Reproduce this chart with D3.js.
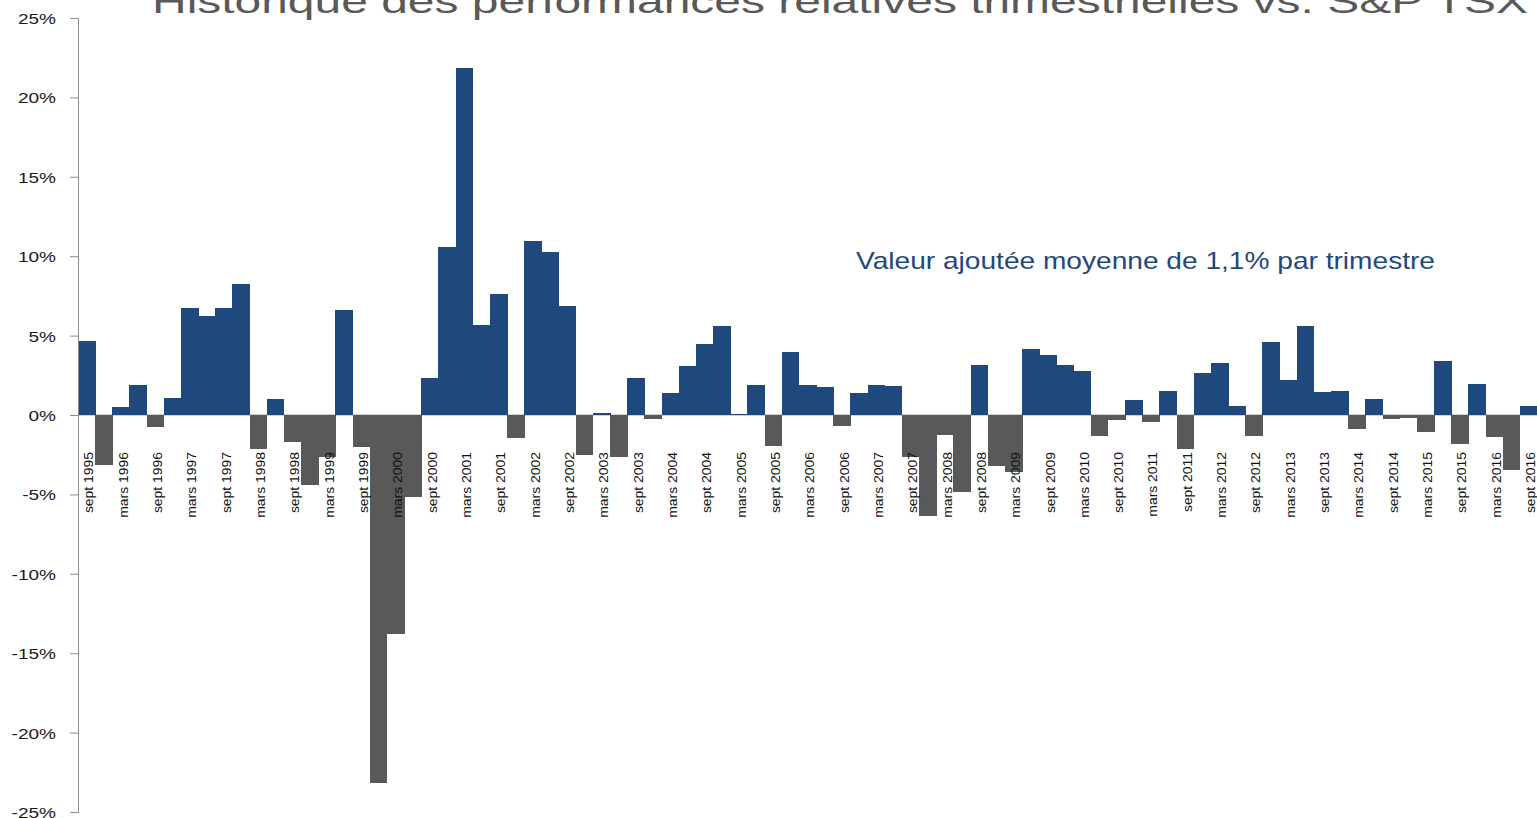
<!DOCTYPE html>
<html>
<head>
<meta charset="utf-8">
<script src="https://cdn.jsdelivr.net/npm/d3@7"></script>
<style>
  html, body { margin: 0; padding: 0; background: #ffffff; overflow: hidden; }
  svg { display: block; }
</style>
</head>
<body>
<svg id="chart" width="1537" height="818"></svg>
<script>
// ---- DATA ----
const categories = [
  "sept 1995","déc 1995","mars 1996","juin 1996","sept 1996","déc 1996",
  "mars 1997","juin 1997","sept 1997","déc 1997","mars 1998","juin 1998",
  "sept 1998","déc 1998","mars 1999","juin 1999","sept 1999","déc 1999",
  "mars 2000","juin 2000","sept 2000","déc 2000","mars 2001","juin 2001",
  "sept 2001","déc 2001","mars 2002","juin 2002","sept 2002","déc 2002",
  "mars 2003","juin 2003","sept 2003","déc 2003","mars 2004","juin 2004",
  "sept 2004","déc 2004","mars 2005","juin 2005","sept 2005","déc 2005",
  "mars 2006","juin 2006","sept 2006","déc 2006","mars 2007","juin 2007",
  "sept 2007","déc 2007","mars 2008","juin 2008","sept 2008","déc 2008",
  "mars 2009","juin 2009","sept 2009","déc 2009","mars 2010","juin 2010",
  "sept 2010","déc 2010","mars 2011","juin 2011","sept 2011","déc 2011",
  "mars 2012","juin 2012","sept 2012","déc 2012","mars 2013","juin 2013",
  "sept 2013","déc 2013","mars 2014","juin 2014","sept 2014","déc 2014",
  "mars 2015","juin 2015","sept 2015","déc 2015","mars 2016","juin 2016",
  "sept 2016"
];
// relative quarterly performance (%)
const values = [
   4.65, -3.15,  0.52,  1.88, -0.77,  1.08,
   6.75,  6.22,  6.75,  8.28, -2.13,  1.00,
  -1.69, -4.40, -2.66,  6.60, -2.00,-23.20,
 -13.78, -5.15,  2.36, 10.57, 21.86,  5.66,
   7.63, -1.42, 10.95, 10.25,  6.85, -2.55,
   0.14, -2.66,  2.36, -0.26,  1.40,  3.07,
   4.48,  5.62,  0.05,  1.92, -1.96,  3.98,
   1.92,  1.78, -0.70,  1.40,  1.92,  1.84,
  -2.64, -6.37, -1.25, -4.87,  3.12, -3.23,
  -3.62,  4.17,  3.77,  3.12,  2.80, -1.31,
  -0.33,  0.96, -0.43,  1.54, -2.13,  2.66,
   3.29,  0.54, -1.35,  4.58,  2.19,  5.62,
   1.46,  1.54, -0.87,  1.00, -0.26, -0.22,
  -1.04,  3.39, -1.84,  1.98, -1.40, -3.49,
   0.54
];
// only every other quarter is labelled
const xTickLabels = categories.filter((d, i) => i % 2 === 0);
const yTickValues = [-25, -20, -15, -10, -5, 0, 5, 10, 15, 20, 25];
const titleText = "Historique des performances relatives trimestrielles vs. S&P TSX";
const noteText = "Valeur ajoutée moyenne de 1,1% par trimestre";

// ---- CHART ----
const svg = d3.select("#chart");
const mLeft = 78, mRight = 1537, mTop = 18, mBottom = 812;

const x = d3.scaleBand().domain(categories).range([mLeft, mRight]).padding(0);
const y = d3.scaleLinear().domain([-25, 25]).range([mBottom, mTop]);

const data = categories.map((c, i) => ({ c, v: values[i] }));

// zero line
svg.append("line")
  .attr("x1", mLeft).attr("x2", mRight)
  .attr("y1", y(0)).attr("y2", y(0))
  .attr("stroke", "#a0a0a0").attr("stroke-width", 1);

// bars
svg.append("g").attr("shape-rendering", "crispEdges")
  .selectAll("rect").data(data).join("rect")
  .attr("x", d => x(d.c))
  .attr("width", x.bandwidth() + 0.5)
  .attr("y", d => y(Math.max(0, d.v)))
  .attr("height", d => Math.abs(y(d.v) - y(0)))
  .attr("fill", d => d.v >= 0 ? "#1f497d" : "#595959");

// y axis
const yAxis = svg.append("g")
  .attr("transform", `translate(${mLeft},0)`)
  .call(d3.axisLeft(y).tickValues(yTickValues).tickFormat(d => d + "%").tickSize(8).tickPadding(0));
yAxis.select(".domain").attr("stroke", "#8c8c8c");
yAxis.selectAll(".tick line").attr("stroke", "#8c8c8c");
yAxis.selectAll(".tick text")
  .attr("x", -17.3)
  .attr("dy", "0.36em")
  .attr("transform", "scale(1.27,1)")
  .style("font-family", "'Liberation Sans', Arial, sans-serif")
  .style("font-size", "15px")
  .attr("fill", "#1a1a1a");

// x labels (categorical axis, labels at the low end)
const xAxis = svg.append("g")
  .call(d3.axisBottom(x).tickValues(xTickLabels).tickSize(0).tickFormat(d => d));
xAxis.select(".domain").remove();
xAxis.selectAll(".tick")
  .attr("transform", d => `translate(${x(d) + x.bandwidth() / 2},0)`);
xAxis.selectAll(".tick text")
  .attr("x", null).attr("y", null).attr("dy", null)
  .attr("text-anchor", "end")
  .attr("transform", "translate(6.7,452) rotate(-90) scale(1.16,1)")
  .style("font-family", "'Liberation Sans', Arial, sans-serif")
  .style("font-size", "12px")
  .attr("fill", "#111111");

// title (cut at the top edge as in the reference)
svg.append("text")
  .attr("x", 152).attr("y", 13)
  .attr("textLength", 1376).attr("lengthAdjust", "spacingAndGlyphs")
  .style("font-family", "'Liberation Sans', Arial, sans-serif")
  .style("font-size", "34px")
  .attr("fill", "#595959")
  .text(titleText);

// annotation
svg.append("text")
  .attr("x", 856).attr("y", 269)
  .attr("textLength", 579).attr("lengthAdjust", "spacingAndGlyphs")
  .style("font-family", "'Liberation Sans', Arial, sans-serif")
  .style("font-size", "24px")
  .attr("fill", "#1f497d")
  .text(noteText);
</script>
</body>
</html>
